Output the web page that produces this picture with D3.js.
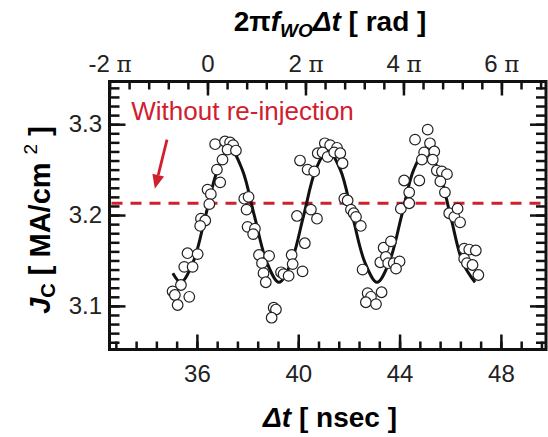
<!DOCTYPE html>
<html>
<head>
<meta charset="utf-8">
<script src="https://cdn.jsdelivr.net/npm/d3@7/dist/d3.min.js"></script>
<style>
  body { margin: 0; background: #fff; }
  svg { display: block; font-family: "Liberation Sans", Arial, sans-serif; }
</style>
</head>
<body>
<div id="chart"></div>
<script>
// Curva ajustada (Δt en ns, Jc en MA/cm2)
const curveT = [35.05, 35.37, 35.85, 36.34, 36.82, 37.31, 37.79, 38.27, 38.76, 39.24,
                39.72, 40.21, 40.69, 41.17, 41.66, 42.14, 42.63, 43.11, 43.59, 44.08,
                44.56, 45.04, 45.53, 46.01, 46.49, 46.98];
const curveJ = [3.136, 3.126, 3.148, 3.199, 3.250, 3.273, 3.250, 3.199, 3.148, 3.126,
                3.148, 3.199, 3.250, 3.271, 3.250, 3.199, 3.148, 3.126, 3.148, 3.199,
                3.250, 3.271, 3.250, 3.199, 3.148, 3.126];

// Puntos medidos
const pointT = [36.72, 37.11, 37.31, 37.43, 37.21, 37.54, 37.01, 36.79, 36.92, 36.42,
                36.55, 36.49, 36.16, 36.33, 36.13, 35.63, 36.03, 35.50, 35.83, 35.37,
                35.04, 35.13, 35.70, 35.24, 37.87, 38.04, 37.96, 38.00, 38.29, 38.22,
                38.45, 38.85, 38.57, 38.63, 38.72, 39.32, 39.42, 39.62, 39.74, 39.78,
                40.17, 39.03, 39.12, 38.95, 40.07, 40.37, 39.95, 40.26, 40.77, 40.63,
                40.50, 40.74, 41.05, 41.26, 41.53, 40.96, 41.16, 41.42, 41.66, 41.75,
                41.82, 41.95, 42.08, 42.19, 42.28, 42.47, 42.54, 43.24, 43.37, 43.66,
                43.46, 43.55, 43.77, 44.00, 43.86, 42.74, 42.87, 42.67, 43.07, 43.29,
                44.18, 44.38, 44.78, 44.05, 44.38, 44.61, 45.11, 45.20, 44.97, 44.88,
                45.37, 45.31, 45.47, 45.67, 45.87, 45.61, 45.79, 45.96, 46.16, 46.29,
                46.39, 46.55, 46.75, 47.01, 46.55, 46.66, 46.88, 47.11];
const pointJ = [3.278, 3.281, 3.280, 3.277, 3.272, 3.271, 3.261, 3.250, 3.236, 3.228,
                3.223, 3.212, 3.196, 3.194, 3.188, 3.158, 3.157, 3.143, 3.143, 3.123,
                3.116, 3.112, 3.110, 3.101, 3.218, 3.220, 3.206, 3.187, 3.185, 3.179,
                3.156, 3.155, 3.147, 3.136, 3.126, 3.137, 3.135, 3.133, 3.156, 3.146,
                3.138, 3.098, 3.096, 3.087, 3.260, 3.250, 3.199, 3.169, 3.268, 3.248,
                3.206, 3.196, 3.279, 3.277, 3.274, 3.269, 3.264, 3.269, 3.268, 3.257,
                3.218, 3.216, 3.206, 3.202, 3.198, 3.188, 3.140, 3.148, 3.164, 3.171,
                3.154, 3.147, 3.147, 3.149, 3.141, 3.114, 3.110, 3.104, 3.102, 3.115,
                3.238, 3.225, 3.238, 3.207, 3.213, 3.283, 3.294, 3.279, 3.269, 3.261,
                3.270, 3.261, 3.249, 3.248, 3.245, 3.237, 3.225, 3.202, 3.198, 3.207,
                3.192, 3.163, 3.162, 3.161, 3.152, 3.147, 3.145, 3.134];

// Ejes
const xTicks = [36, 40, 44, 48];
const yTicks = [3.1, 3.2, 3.3];
const phaseTicks = [-2, 0, 2, 4, 6];
const phaseLabels = ["-2 π", "0", "2 π", "4 π", "6 π"];

// Linea de referencia y anotacion
const refJ = 3.213;
const refLabel = "Without re-injection";

const width = 548;
const height = 437;
const pLeft = 109.5, pRight = 546, pTop = 81.5, pBottom = 349.5;

const svg = d3.select("#chart")
    .append("svg")
    .attr("width", width)
    .attr("height", height);

const x = d3.scaleLinear().domain([32.55, 49.78]).range([pLeft, pRight]);
const phase = d3.scaleLinear().domain([-2, 6.91]).range([pLeft, pRight]);
const y = d3.scaleLinear().domain([3.052, 3.347]).range([pBottom, pTop]);

const xMinor = d3.range(32.8, 49.7, 0.8);
const phaseMinor = d3.range(-2, 6.9, 0.4);
const yMinor = d3.range(3.06, 3.345, 0.01);

function estiloEje(g) {
    g.select(".domain").remove();
    g.selectAll(".tick line").attr("stroke", "#111").attr("stroke-width", 2.5);
    g.selectAll(".tick text")
        .attr("fill", "#222")
        .style("font-size", "24px")
        .style("font-family", "'Liberation Sans', Arial, sans-serif");
}

// Eje inferior
svg.append("g").attr("transform", `translate(0,${pBottom})`)
    .call(d3.axisBottom(x).tickValues(xMinor).tickSize(-8).tickSizeOuter(0).tickFormat(""))
    .call(estiloEje);
svg.append("g").attr("transform", `translate(0,${pBottom})`)
    .call(d3.axisBottom(x).tickValues(xTicks).tickSize(-15).tickSizeOuter(0).tickPadding(15.5))
    .call(estiloEje);

// Eje superior (fase)
svg.append("g").attr("transform", `translate(0,${pTop})`)
    .call(d3.axisTop(phase).tickValues(phaseMinor).tickSize(-8).tickSizeOuter(0).tickFormat(""))
    .call(estiloEje);
const topAxis = svg.append("g").attr("transform", `translate(0,${pTop})`)
    .call(d3.axisTop(phase).tickValues(phaseTicks).tickSize(-14).tickSizeOuter(0)
        .tickPadding(9.5).tickFormat((d, i) => phaseLabels[i]))
    .call(estiloEje);
topAxis.selectAll(".tick text").each(function(d, i) {
    const t = d3.select(this);
    const parts = phaseLabels[i].split("π");
    t.text(parts[0]);
    if (parts.length > 1) {
        t.append("tspan").style("font-family", "'DejaVu Serif', 'Liberation Serif', serif")
            .style("font-size", "23px").text("π");
    }
});

// Eje izquierdo
svg.append("g").attr("transform", `translate(${pLeft},0)`)
    .call(d3.axisLeft(y).tickValues(yMinor).tickSize(-10).tickSizeOuter(0).tickFormat(""))
    .call(estiloEje);
svg.append("g").attr("transform", `translate(${pLeft},0)`)
    .call(d3.axisLeft(y).tickValues(yTicks).tickSize(-16).tickSizeOuter(0).tickPadding(7.5)
        .tickFormat(d3.format(".1f")))
    .call(estiloEje);

// Eje derecho
svg.append("g").attr("transform", `translate(${pRight},0)`)
    .call(d3.axisRight(y).tickValues(yMinor).tickSize(-10).tickSizeOuter(0).tickFormat(""))
    .call(estiloEje);
svg.append("g").attr("transform", `translate(${pRight},0)`)
    .call(d3.axisRight(y).tickValues(yTicks).tickSize(-16).tickSizeOuter(0).tickFormat(""))
    .call(estiloEje);

// Marco
svg.append("rect")
    .attr("x", pLeft).attr("y", pTop)
    .attr("width", pRight - pLeft).attr("height", pBottom - pTop)
    .attr("fill", "none").attr("stroke", "#111").attr("stroke-width", 3);

// Linea discontinua roja
svg.append("line")
    .attr("x1", pLeft + 2).attr("x2", pRight)
    .attr("y1", y(refJ)).attr("y2", y(refJ))
    .attr("stroke", "#d0202e").attr("stroke-width", 3.2)
    .attr("stroke-dasharray", "11,8");

// Curva ajustada
const curveData = curveT.map((t, i) => ({t: t, j: curveJ[i]}));
svg.append("path")
    .datum(curveData)
    .attr("fill", "none")
    .attr("stroke", "#111")
    .attr("stroke-width", 3)
    .attr("d", d3.line().x(d => x(d.t)).y(d => y(d.j)).curve(d3.curveCatmullRom.alpha(0.5)));

// Puntos
const pointData = pointT.map((t, i) => ({t: t, j: pointJ[i]}));
svg.append("g").selectAll("circle")
    .data(pointData)
    .enter()
    .append("circle")
    .attr("cx", d => x(d.t))
    .attr("cy", d => y(d.j))
    .attr("r", 5.3)
    .attr("fill", "#fff")
    .attr("stroke", "#222")
    .attr("stroke-width", 1.2);

// Anotacion
svg.append("text")
    .attr("x", x(33.41)).attr("y", y(3.305))
    .attr("fill", "#d0202e")
    .style("font-size", "26px")
    .text(refLabel);

const a0 = [x(34.82), y(3.283)];
const a1 = [x(34.34), y(3.229)];
const ang = Math.atan2(a1[1] - a0[1], a1[0] - a0[0]);
const headLen = 14, headW = 6;
const base = [a1[0] - headLen * Math.cos(ang), a1[1] - headLen * Math.sin(ang)];
svg.append("line")
    .attr("x1", a0[0]).attr("y1", a0[1]).attr("x2", base[0]).attr("y2", base[1])
    .attr("stroke", "#d0202e").attr("stroke-width", 2.8);
svg.append("path")
    .attr("d", d3.line()([
        a1,
        [base[0] + headW * Math.sin(ang), base[1] - headW * Math.cos(ang)],
        [base[0] - headW * Math.sin(ang), base[1] + headW * Math.cos(ang)]
    ]) + "Z")
    .attr("fill", "#d0202e");

// Titulos
const titleTop = svg.append("text")
    .attr("x", 330).attr("y", 31)
    .attr("text-anchor", "middle")
    .style("font-size", "28px").style("font-weight", "bold");
titleTop.append("tspan").text("2π");
titleTop.append("tspan").style("font-style", "italic").text("f");
titleTop.append("tspan").style("font-style", "italic").style("font-size", "19px")
    .attr("dy", 6).text("WO");
titleTop.append("tspan").style("font-style", "italic").attr("dy", -6).text("Δt");
titleTop.append("tspan").text(" [ rad ]");

const titleBottom = svg.append("text")
    .attr("x", 330).attr("y", 427)
    .attr("text-anchor", "middle")
    .style("font-size", "28px").style("font-weight", "bold");
titleBottom.append("tspan").style("font-style", "italic").text("Δt");
titleBottom.append("tspan").text(" [ nsec ]");

const titleLeft = svg.append("text")
    .attr("transform", "translate(50,220) rotate(-90)")
    .attr("text-anchor", "middle")
    .style("font-size", "29px").style("font-weight", "bold");
titleLeft.append("tspan").style("font-style", "italic").text("J");
titleLeft.append("tspan").style("font-size", "20px").attr("dy", 5).text("C");
titleLeft.append("tspan").attr("dy", -5).text(" [ MA/cm");
titleLeft.append("tspan").style("font-size", "19px").style("font-weight", "normal")
    .attr("dy", -13).attr("dx", 8).text("2");
titleLeft.append("tspan").attr("dy", 13).text(" ]");
</script>
</body>
</html>
